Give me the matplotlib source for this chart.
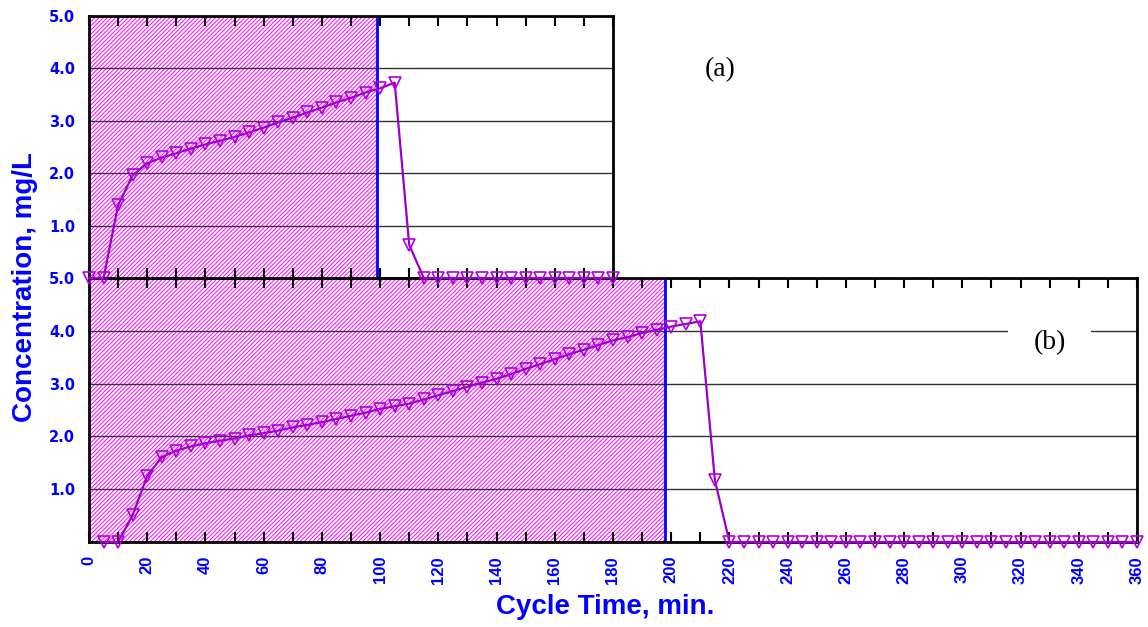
import matplotlib
matplotlib.use("Agg")
import matplotlib.pyplot as plt

# panel (a): 100 min fill/react phase
time_a = [0, 5, 10, 15, 20, 25, 30, 35, 40, 45, 50, 55, 60, 65, 70, 75, 80, 85, 90,
          95, 100, 105, 110, 115, 120, 125, 130, 135, 140, 145, 150, 155, 160, 165,
          170, 175, 180]
conc_a = [0.0, 0.0, 1.39, 1.96, 2.19, 2.30, 2.38, 2.47, 2.55, 2.62, 2.69, 2.78, 2.87,
          2.97, 3.06, 3.16, 3.25, 3.35, 3.44, 3.54, 3.62, 3.73, 0.63, 0.0, 0.0, 0.0,
          0.0, 0.0, 0.0, 0.0, 0.0, 0.0, 0.0, 0.0, 0.0, 0.0, 0.0]

# panel (b): 200 min fill/react phase
time_b = [5, 10, 15, 20, 25, 30, 35, 40, 45, 50, 55, 60, 65, 70, 75, 80, 85, 90, 95,
          100, 105, 110, 115, 120, 125, 130, 135, 140, 145, 150, 155, 160, 165, 170,
          175, 180, 185, 190, 195, 200, 205, 210, 215, 220, 225, 230, 235, 240, 245,
          250, 255, 260, 265, 270, 275, 280, 285, 290, 295, 300, 305, 310, 315, 320,
          325, 330, 335, 340, 345, 350, 355, 360]
conc_b = [0.0, 0.0, 0.51, 1.25, 1.61, 1.73, 1.81, 1.87, 1.92, 1.96, 2.02, 2.06, 2.11,
          2.17, 2.22, 2.27, 2.33, 2.39, 2.45, 2.52, 2.57, 2.62, 2.70, 2.78, 2.86, 2.94,
          3.02, 3.09, 3.18, 3.28, 3.37, 3.46, 3.56, 3.64, 3.73, 3.82, 3.88, 3.96, 4.02,
          4.08, 4.13, 4.18, 1.17, 0.0, 0.0, 0.0, 0.0, 0.0, 0.0, 0.0, 0.0, 0.0, 0.0,
          0.0, 0.0, 0.0, 0.0, 0.0, 0.0, 0.0, 0.0, 0.0, 0.0, 0.0, 0.0, 0.0, 0.0, 0.0,
          0.0, 0.0, 0.0, 0.0]

shade_a = 99
shade_b = 198
yticks = [0, 1, 2, 3, 4, 5]
ylabels = ["", "1.0", "2.0", "3.0", "4.0", "5.0"]

line_col = "#9900CC"
mark_col = "#B000DD"
hatch_col = "#FF00FF"
blue = "#0000FF"

plt.rcParams["hatch.linewidth"] = 0.7

fig = plt.figure(figsize=(11.48, 6.27), dpi=100)
ax_b = fig.add_axes([89 / 1148, 1 - 542 / 627, 1048 / 1148, 264 / 627])
ax_a = fig.add_axes([89 / 1148, 1 - 278 / 627, 524 / 1148, 262 / 627], zorder=3)
ax_a.patch.set_alpha(0)


def style(ax, xmax, shade):
    ax.set_xlim(0, xmax)
    ax.set_ylim(0, 5)
    ax.axvspan(0, shade, facecolor="white", edgecolor=hatch_col, hatch="////////",
               linewidth=0, zorder=1)
    ax.axvline(shade, color=blue, lw=2, zorder=2.2)
    ax.grid(axis="y", color="#333333", lw=1)
    ax.set_yticks(yticks)
    ax.set_yticklabels(ylabels)
    ax.set_xticks(range(0, xmax + 1, 10))
    ax.tick_params(axis="x", direction="in", length=7, width=1.5, top=True,
                   bottom=True, color="black")
    ax.tick_params(axis="y", direction="in", length=0, pad=10)
    for lab in ax.get_yticklabels():
        lab.set_fontfamily("DejaVu Sans")
        lab.set_fontweight("bold")
        lab.set_fontsize(10.5)
        lab.set_color(blue)
    for sp in ax.spines.values():
        sp.set_linewidth(2)
        sp.set_color("black")
        sp.set_zorder(4)


style(ax_a, 180, shade_a)
style(ax_b, 360, shade_b)

ax_a.set_xticklabels([])
xt = list(range(0, 361, 10))
ax_b.set_xticklabels([str(v) if v % 20 == 0 else "" for v in xt], rotation=90,
                     fontfamily="Liberation Sans", fontweight="bold", fontsize=12,
                     color=blue)
ax_b.tick_params(axis="x", pad=10)

ax_a.plot(time_a, conc_a, color=line_col, lw=1.6, marker="v", ms=8,
          mfc="none", mec=mark_col, mew=1.2, clip_on=False, zorder=5)
ax_b.plot(time_b, conc_b, color=line_col, lw=1.6, marker="v", ms=8,
          mfc="none", mec=mark_col, mew=1.2, clip_on=False, zorder=5)

ax_b.text(330, 3.77, "(b)", ha="center", va="center", fontsize=20,
          family="Liberation Serif", zorder=3,
          bbox=dict(boxstyle="square,pad=0.9", fc="white", ec="none"))
fig.text(720 / 1148, 1 - 70 / 627, "(a)", ha="center", va="center", fontsize=20,
         family="Liberation Serif")

fig.text(25 / 1148, 1 - 287 / 627, "Concentration, mg/L", rotation=90,
         ha="center", va="center", fontsize=20, fontweight="bold", color=blue,
         family=["Liberation Sans Narrow", "Liberation Sans"])
fig.text(605 / 1148, 1 - 607 / 627, "Cycle Time, min.", ha="center", va="center",
         fontsize=20, fontweight="bold", color=blue,
         family=["Liberation Sans Narrow", "Liberation Sans"])

fig.savefig("out.png", dpi=100)
